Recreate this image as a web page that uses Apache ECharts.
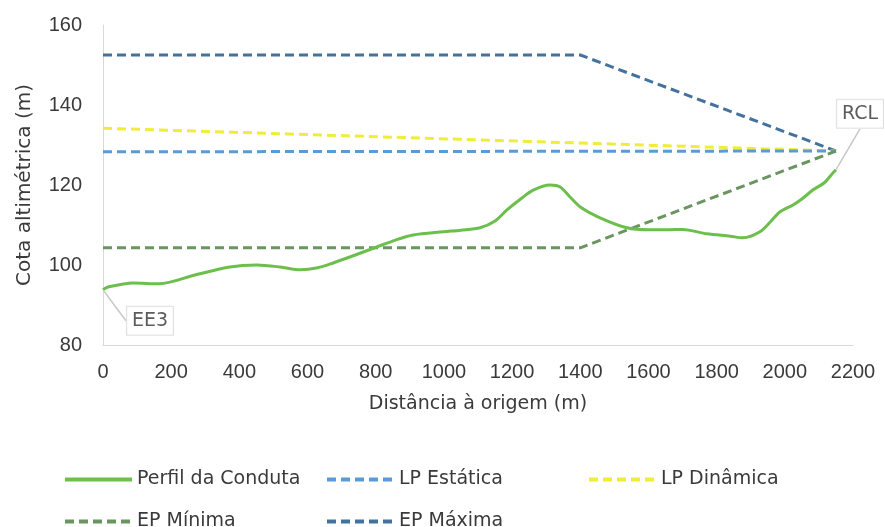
<!DOCTYPE html>
<html>
<head>
<meta charset="utf-8">
<script src="https://cdn.jsdelivr.net/npm/echarts@6/dist/echarts.min.js"></script>
<style>html,body{margin:0;padding:0;background:#fff}#c{width:885px;height:527px}</style>
</head>
<body>
<div id="c"></div>
<script>
var seriesNames = ['Perfil da Conduta', 'LP Estática', 'LP Dinâmica', 'EP Mínima', 'EP Máxima'];
var perfilDist = [0, 15, 88, 165, 270, 372, 451, 520, 578, 630, 675, 740, 803, 860, 910, 998, 1050, 1106, 1150, 1184, 1225, 1262, 1311, 1341, 1370, 1400, 1458, 1537, 1600, 1654, 1700, 1771, 1840, 1877, 1927, 1960, 1986, 2024, 2050, 2083, 2115, 2141, 2150];
var perfilCota = [93.8, 94.5, 95.5, 95.3, 97.5, 99.5, 100, 99.5, 98.8, 99.3, 100.5, 102.5, 104.5, 106.3, 107.5, 108.3, 108.7, 109.3, 111, 113.7, 116.5, 118.7, 120, 119.5, 117, 114.5, 111.8, 109.3, 108.8, 108.8, 108.9, 107.8, 107.2, 106.8, 108.3, 111, 113.3, 115, 116.5, 118.8, 120.5, 123, 123.8];
var lpEstDist = [0, 2150];
var lpEstCota = [128.3, 128.5];
var lpDinDist = [0, 2150];
var lpDinCota = [134.2, 128.5];
var epMinDist = [0, 1400, 2150];
var epMinCota = [104.3, 104.3, 128.5];
var epMaxDist = [0, 1400, 2150];
var epMaxCota = [152.5, 152.5, 128.5];
var pointLabels = ['EE3', 'RCL'];

function pairs(xs, ys) { return xs.map(function (x, i) { return [x, ys[i]]; }); }

var textColor = '#3a3a3a';
var FONT = 'DejaVu Sans';
var TICKFONT = 'Liberation Sans';
var lastIdx = perfilDist.length - 1;
var labelPoints = [
  { value: [perfilDist[0], perfilCota[0]], name: pointLabels[0] },
  { value: [perfilDist[lastIdx], perfilCota[lastIdx]], name: pointLabels[1] }
];

var dashed = function (color) { return { color: color, width: 3, type: [9, 5] }; };

var chart = echarts.init(document.getElementById('c'), null, { renderer: 'canvas' });
var legendBase = function (name, left, top) {
  return {
    data: [name], left: left, top: top, itemWidth: 67, itemHeight: 14, itemGap: 0,
    itemStyle: { opacity: 0 },
    lineStyle: { width: 4 },
    textStyle: { color: textColor, fontFamily: FONT, fontSize: 19 },
    selectedMode: false
  };
};
chart.setOption({
  animation: false,
  backgroundColor: '#ffffff',
  grid: { left: 103, right: 32, top: 25, bottom: 182, containLabel: false },
  xAxis: {
    type: 'value', min: 0, max: 2200, interval: 200,
    name: 'Distância à origem (m)', nameLocation: 'middle', nameGap: 50,
    nameTextStyle: { color: textColor, fontFamily: FONT, fontSize: 19 },
    axisLine: { show: true, lineStyle: { color: '#d9d9d9', width: 1 } },
    axisTick: { show: false },
    splitLine: { show: false },
    axisLabel: { color: textColor, fontFamily: TICKFONT, fontSize: 20, margin: 17, formatter: function (v) { return String(v); } }
  },
  yAxis: {
    type: 'value', min: 80, max: 160, interval: 20,
    name: 'Cota altimétrica (m)', nameLocation: 'middle', nameGap: 68,
    nameTextStyle: { color: textColor, fontFamily: FONT, fontSize: 20 },
    axisLine: { show: true, lineStyle: { color: '#d9d9d9', width: 1 } },
    axisTick: { show: false },
    splitLine: { show: false },
    axisLabel: { color: textColor, fontFamily: TICKFONT, fontSize: 20, margin: 21, formatter: function (v) { return String(v); } }
  },
  legend: [
    legendBase(seriesNames[0], 58, 465),
    legendBase(seriesNames[1], 320, 465),
    legendBase(seriesNames[2], 582, 465),
    legendBase(seriesNames[3], 58, 507),
    legendBase(seriesNames[4], 320, 507)
  ],
  series: [
    {
      name: seriesNames[4], type: 'line', showSymbol: false, symbol: 'none',
      data: pairs(epMaxDist, epMaxCota), lineStyle: dashed('#44729e'), itemStyle: { color: '#44729e' }
    },
    {
      name: seriesNames[2], type: 'line', showSymbol: false, symbol: 'none',
      data: pairs(lpDinDist, lpDinCota), lineStyle: dashed('#f0ec3a'), itemStyle: { color: '#f0ec3a' }
    },
    {
      name: seriesNames[1], type: 'line', showSymbol: false, symbol: 'none',
      data: pairs(lpEstDist, lpEstCota), lineStyle: dashed('#5b9bd5'), itemStyle: { color: '#5b9bd5' }
    },
    {
      name: seriesNames[3], type: 'line', showSymbol: false, symbol: 'none',
      data: pairs(epMinDist, epMinCota), lineStyle: dashed('#6b9560'), itemStyle: { color: '#6b9560' }
    },
    {
      name: seriesNames[0], type: 'line', showSymbol: false, symbol: 'none', smooth: 0.3,
      data: pairs(perfilDist, perfilCota), lineStyle: { color: '#6cbf4c', width: 3 }, itemStyle: { color: '#6cbf4c' },
      z: 3
    },
    {
      name: 'labels', type: 'scatter', symbolSize: 1, itemStyle: { color: 'rgba(0,0,0,0)' },
      data: labelPoints, silent: true, z: 4,
      label: {
        show: true,
        formatter: '{b}',
        position: 'inside',
        color: '#333333',
        fontFamily: FONT,
        fontSize: 19,
        backgroundColor: '#ffffff',
        borderColor: '#d9d9d9',
        borderWidth: 1,
        padding: [5, 5, 4, 5]
      },
      labelLine: { show: true, lineStyle: { color: '#c8c8c8', width: 1.5 } },
      labelLayout: function (params) {
        if (params.dataIndex === 0) return { dx: 47, dy: 31 };
        return { dx: 24, dy: -56 };
      }
    }
  ]
});
</script>
</body>
</html>
